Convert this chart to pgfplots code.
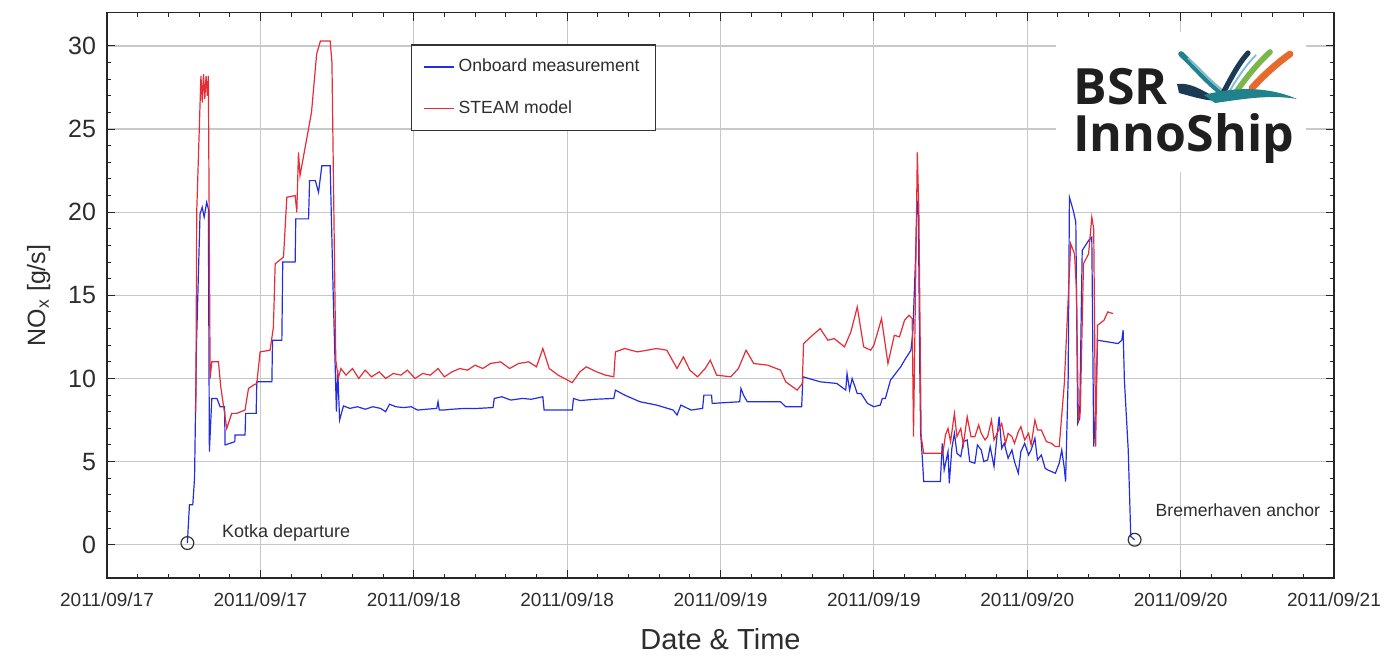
\documentclass[border=0pt]{standalone}
\usepackage{pgfplots}
\pgfplotsset{compat=1.18}
\usepackage{fontspec}
\setmainfont{Liberation Sans}
\newfontfamily\logofont{Open Sans}

\definecolor{meas}{RGB}{35,45,225}
\definecolor{steam}{RGB}{230,45,55}
\definecolor{txt}{RGB}{45,45,45}
\definecolor{gridc}{RGB}{200,200,200}
\definecolor{lnavy}{RGB}{28,58,84}
\definecolor{lteal}{RGB}{32,130,140}
\definecolor{lgreen}{RGB}{122,182,72}
\definecolor{lorange}{RGB}{230,105,45}
\definecolor{lyellow}{RGB}{236,200,70}
\definecolor{llblue}{RGB}{120,190,220}

% Onboard measurement, hours since 2011/09/17 00:00 vs NOx [g/s]
\pgfplotstableread{
h v
6.29 0.1
6.45 2.4
6.71 2.4
6.85 4.0
7.00 12.0
7.28 19.9
7.45 20.3
7.60 19.7
7.80 20.6
7.93 20.2
8.01 5.6
8.20 8.8
8.60 8.8
8.85 8.3
9.20 8.3
9.24 6.0
10.00 6.2
10.02 6.6
10.80 6.6
10.85 7.9
11.67 7.9
11.72 9.8
12.90 9.8
12.95 12.3
13.68 12.3
13.75 17.0
14.72 17.0
14.77 19.6
15.77 19.6
15.85 21.9
16.30 21.9
16.55 21.2
16.81 22.8
17.46 22.8
17.70 15.0
17.95 8.0
18.05 10.5
18.20 7.5
18.50 8.35
19.00 8.2
19.60 8.3
20.20 8.15
20.80 8.3
21.40 8.2
21.80 8.0
22.10 8.45
22.60 8.3
23.20 8.25
23.80 8.3
24.30 8.1
25.00 8.15
25.80 8.2
25.90 8.6
26.00 8.1
26.30 8.1
27.00 8.15
28.00 8.2
29.00 8.2
30.20 8.25
30.30 8.8
30.90 8.9
31.60 8.7
32.50 8.8
33.20 8.75
34.10 8.9
34.20 8.1
36.40 8.1
36.50 8.8
37.00 8.67
38.20 8.75
39.65 8.8
39.78 9.3
40.50 9.0
41.70 8.6
43.00 8.4
44.30 8.1
44.60 7.8
44.90 8.4
45.70 8.1
46.60 8.2
46.70 9.0
47.30 9.0
47.35 8.5
49.50 8.6
49.60 9.4
49.80 9.0
50.10 8.6
52.70 8.6
53.10 8.3
54.35 8.3
54.45 10.1
55.80 9.8
57.10 9.7
57.80 9.3
57.90 10.3
58.10 9.3
58.30 10.0
58.70 9.1
59.00 9.1
59.50 8.5
60.00 8.3
60.50 8.4
60.66 8.8
60.90 8.8
61.30 9.9
62.10 10.7
62.40 11.1
62.90 11.7
63.05 12.8
63.25 17.0
63.38 20.7
63.48 19.9
63.60 10.0
63.66 6.7
63.80 5.1
63.90 3.8
65.20 3.8
65.35 6.1
65.50 4.5
65.80 5.6
65.90 3.7
66.10 5.8
66.30 6.7
66.50 5.5
66.80 5.3
67.00 6.2
67.30 6.3
67.50 5.0
67.90 4.9
68.10 6.0
68.40 5.7
68.60 5.0
68.90 5.1
69.10 5.9
69.40 4.7
69.60 6.3
69.80 7.7
70.00 5.8
70.20 6.1
70.50 5.2
70.80 5.7
71.00 5.0
71.30 4.3
71.50 5.6
71.80 6.1
72.10 5.4
72.30 5.7
72.60 6.4
72.80 5.1
73.10 5.4
73.40 4.6
73.60 4.5
74.20 4.3
74.50 4.9
74.70 5.7
74.90 4.6
75.00 3.8
75.20 10.0
75.30 20.9
75.60 20.1
75.80 19.4
75.95 7.3
76.10 7.6
76.30 17.7
76.80 18.3
77.05 18.5
77.20 5.9
77.35 8.0
77.50 12.3
79.10 12.1
79.40 12.3
79.50 12.9
79.60 9.9
79.90 5.7
80.10 0.5
80.40 0.3
}\measdata

% STEAM model
\pgfplotstableread{
h v
6.95 8.0
7.02 20.0
7.28 26.5
7.35 28.2
7.45 26.6
7.55 28.3
7.65 26.8
7.75 28.2
7.85 27.0
7.93 28.2
8.07 10.0
8.20 11.0
8.72 11.0
8.90 9.5
9.37 7.0
9.76 7.9
10.15 7.9
10.80 8.1
11.07 9.4
11.46 9.6
11.72 9.7
11.98 11.6
12.76 11.7
13.02 13.1
13.16 16.9
13.81 17.3
14.07 20.9
14.72 21.0
14.85 20.0
14.98 23.6
15.10 22.2
16.00 26.0
16.40 29.5
16.70 30.3
17.46 30.3
17.60 29.0
17.75 20.0
17.90 11.1
18.10 10.0
18.30 10.6
18.70 10.2
19.20 10.6
19.70 10.0
20.20 10.5
20.70 10.1
21.30 10.4
21.80 10.0
22.40 10.3
23.00 10.2
23.50 10.5
24.10 10.0
24.70 10.3
25.30 10.2
25.90 10.6
26.40 10.1
27.00 10.4
27.60 10.6
28.20 10.5
28.80 10.8
29.40 10.6
30.00 10.9
30.80 11.0
31.50 10.6
32.20 10.9
33.00 11.0
33.60 10.7
34.10 11.8
34.60 10.6
35.30 10.2
36.40 9.75
37.00 10.4
37.50 10.7
38.30 10.4
39.00 10.2
39.65 10.1
39.78 11.6
40.50 11.8
41.50 11.6
43.00 11.8
43.80 11.7
44.60 10.6
45.10 11.3
45.60 10.5
46.20 10.1
46.80 10.6
47.20 11.1
47.70 10.2
48.80 10.1
49.40 10.6
50.00 11.7
50.60 10.9
51.70 10.8
52.70 10.5
53.10 9.8
54.00 9.3
54.40 9.7
54.50 12.1
55.20 12.6
55.80 13.0
56.40 12.3
56.90 12.4
57.70 11.9
58.20 12.8
58.70 14.3
59.20 11.9
59.75 11.7
60.00 12.0
60.60 13.6
61.10 10.9
61.60 12.6
62.00 12.5
62.40 13.5
62.75 13.8
63.00 13.6
63.10 6.5
63.25 15.0
63.40 23.6
63.52 20.0
63.70 6.5
63.90 5.5
65.40 5.5
65.60 6.6
65.80 7.0
66.00 6.2
66.30 7.9
66.50 6.5
66.80 7.0
67.00 6.0
67.30 7.7
67.60 6.5
67.90 6.5
68.20 7.2
68.40 6.7
68.70 6.3
68.90 6.5
69.20 7.5
69.40 6.3
69.70 6.8
70.00 7.3
70.30 6.1
70.50 6.7
70.80 6.5
71.00 6.1
71.30 6.8
71.50 7.1
71.80 6.3
72.10 6.7
72.30 6.0
72.60 7.5
72.80 6.9
73.10 6.9
73.50 6.2
73.90 6.1
74.20 5.9
74.50 5.9
74.90 9.7
75.40 18.1
75.70 17.5
75.85 15.3
76.00 7.5
76.15 8.0
76.40 16.9
76.80 17.5
77.05 19.7
77.20 19.0
77.35 5.9
77.50 13.2
78.00 13.5
78.30 14.0
78.70 13.9
}\steamdata

\begin{document}
\begin{tikzpicture}
\begin{axis}[
  name=ax,
  scale only axis,
  width=613.5pt, height=282.65pt,
  xmin=0, xmax=96, ymin=-2, ymax=32,
  xtick={0,12,...,96},
  xticklabels={2011/09/17,2011/09/17,2011/09/18,2011/09/18,2011/09/19,2011/09/19,2011/09/20,2011/09/20,2011/09/21},
  ytick={0,5,...,30},
  minor x tick num=4, minor y tick num=4,
  tick align=inside,
  xtick pos=both, ytick pos=both,
  major tick length=4pt, minor tick length=2pt,
  grid=major,
  major grid style={gridc, line width=0.6pt},
  axis line style={black!85, line width=0.7pt},
  tick style={black!85, line width=0.5pt},
  /pgf/number format/assume math mode=true,
  xticklabel style={font=\fontsize{9.5}{11}\selectfont, text=txt, yshift=-4pt},
  yticklabel style={font=\fontsize{12.5}{14}\selectfont, text=txt, xshift=-2pt},
  xlabel={Date \& Time},
  xlabel style={font=\fontsize{14.5}{17}\selectfont, text=txt, yshift=-4pt},
  ylabel={NO\textsubscript{x} [g/s]},
  ylabel style={font=\fontsize{12.5}{14}\selectfont, text=txt, yshift=2pt},
  legend cell align=left,
  legend image code/.code={\draw[#1, line width=0.7pt] (0pt,0pt) -- (15pt,0pt);},
  legend style={at={(axis cs:23.75,30.1)}, anchor=north west,
    draw=black!80, line width=0.7pt, fill=white,
    font=\fontsize{8.8}{10}\selectfont, text=txt,
    inner xsep=6pt, inner ysep=5pt, row sep=9pt},
]
\addplot[meas, line width=0.6pt] table[x=h, y=v] {\measdata};
\addlegendentry{Onboard measurement}
\addplot[steam, line width=0.6pt] table[x=h, y=v] {\steamdata};
\addlegendentry{STEAM model}
% start and end of the voyage
\addplot[only marks, mark=o, mark size=3.2pt, mark options={black!80, line width=0.6pt, fill=white}, forget plot]
  coordinates {(6.29,0.1) (80.4,0.3)};
\node[anchor=west, text=txt, font=\fontsize{9}{10}\selectfont] at (axis cs:8.45,0.7) {Kotka departure};
\node[anchor=west, text=txt, font=\fontsize{8.8}{10}\selectfont] at (axis cs:81.5,2.05) {Bremerhaven anchor};
\end{axis}

% BSR InnoShip logo, laid out on a pixel grid anchored at the axis corner
\begin{scope}[shift={(-53.5pt,289pt)}, x=0.5pt, y=-0.5pt]
  \fill[white] (1056,32) rectangle (1306,172);
  \node[anchor=base west, inner sep=0pt, text=black!88, font=\logofont\bfseries\fontsize{25}{25}\selectfont] at (1073,105) {BSR};
  \node[anchor=base west, inner sep=0pt, text=black!88, font=\logofont\bfseries\fontsize{25}{25}\selectfont] at (1073,152) {InnoShip};
  % strands falling from the upper left
  \draw[lteal, line width=2.8pt, line cap=round] (1181,54) .. controls (1196,68) and (1208,83) .. (1222,93);
  \draw[lyellow, line width=1pt] (1192,62) .. controls (1204,73) and (1213,84) .. (1226,92);
  \draw[llblue, line width=1pt] (1188,58) .. controls (1201,70) and (1211,82) .. (1224,92);
  % strands rising to the upper right
  \draw[lnavy, line width=2.6pt, line cap=round] (1222,95) .. controls (1230,80) and (1238,64) .. (1248,53);
  \draw[llblue, line width=0.9pt] (1228,94) .. controls (1236,80) and (1245,66) .. (1256,55);
  \draw[lgreen, line width=2.8pt, line cap=round] (1236,92) .. controls (1246,78) and (1257,64) .. (1270,52);
  \draw[lorange, line width=3.4pt, line cap=round] (1252,88) .. controls (1264,75) and (1276,64) .. (1290,54);
  % base swoosh
  \fill[lnavy] (1177,84) .. controls (1195,82) and (1206,95) .. (1224,100)
     .. controls (1212,103) and (1194,97) .. (1179,93) -- cycle;
  \fill[lteal] (1204,95) .. controls (1230,88) and (1265,85) .. (1297,99)
     .. controls (1268,94) and (1238,100) .. (1215,103) -- cycle;
\end{scope}

\pgfresetboundingbox
\path ([shift={(-53.5pt,-41.5pt)}]ax.south west) rectangle ([shift={(24.5pt,6.35pt)}]ax.north east);
\end{tikzpicture}
\end{document}
